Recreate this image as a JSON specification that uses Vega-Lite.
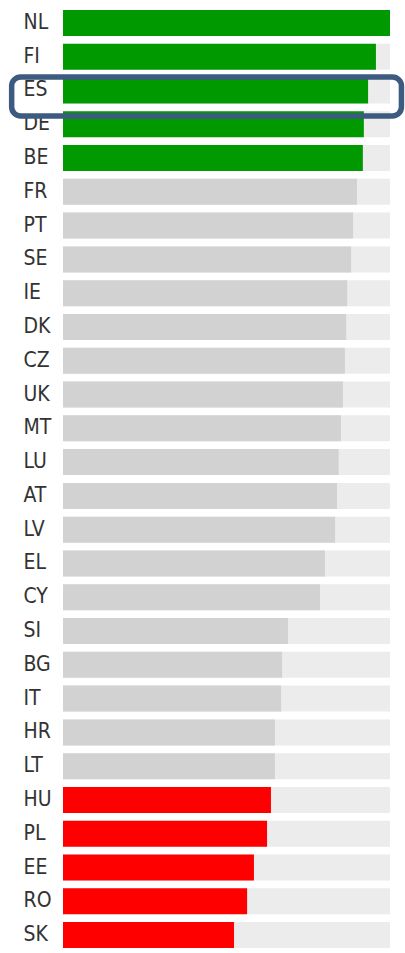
{
  "$schema": "https://vega.github.io/schema/vega-lite/v6.json",
  "autosize": {"type": "none"},
  "width": 327,
  "height": 946,
  "padding": {"left": 63, "top": 6, "right": 15, "bottom": 1},
  "background": "white",
  "config": {"view": {"stroke": null}},
  "data": {
    "values": [
      {"country": "NL", "value": 100, "group": "top", "max": 100},
      {"country": "FI", "value": 95.7, "group": "top", "max": 100},
      {"country": "ES", "value": 93.3, "group": "top", "max": 100},
      {"country": "DE", "value": 92.0, "group": "top", "max": 100},
      {"country": "BE", "value": 91.7, "group": "top", "max": 100},
      {"country": "FR", "value": 89.9, "group": "middle", "max": 100},
      {"country": "PT", "value": 88.7, "group": "middle", "max": 100},
      {"country": "SE", "value": 88.1, "group": "middle", "max": 100},
      {"country": "IE", "value": 86.9, "group": "middle", "max": 100},
      {"country": "DK", "value": 86.6, "group": "middle", "max": 100},
      {"country": "CZ", "value": 86.2, "group": "middle", "max": 100},
      {"country": "UK", "value": 85.6, "group": "middle", "max": 100},
      {"country": "MT", "value": 85.0, "group": "middle", "max": 100},
      {"country": "LU", "value": 84.3, "group": "middle", "max": 100},
      {"country": "AT", "value": 83.8, "group": "middle", "max": 100},
      {"country": "LV", "value": 83.2, "group": "middle", "max": 100},
      {"country": "EL", "value": 80.1, "group": "middle", "max": 100},
      {"country": "CY", "value": 78.6, "group": "middle", "max": 100},
      {"country": "SI", "value": 68.8, "group": "middle", "max": 100},
      {"country": "BG", "value": 67.0, "group": "middle", "max": 100},
      {"country": "IT", "value": 66.7, "group": "middle", "max": 100},
      {"country": "HR", "value": 64.8, "group": "middle", "max": 100},
      {"country": "LT", "value": 64.8, "group": "middle", "max": 100},
      {"country": "HU", "value": 63.6, "group": "bottom", "max": 100},
      {"country": "PL", "value": 62.4, "group": "bottom", "max": 100},
      {"country": "EE", "value": 58.4, "group": "bottom", "max": 100},
      {"country": "RO", "value": 56.3, "group": "bottom", "max": 100},
      {"country": "SK", "value": 52.3, "group": "bottom", "max": 100}
    ]
  },
  "encoding": {
    "y": {
      "field": "country",
      "type": "nominal",
      "sort": null,
      "scale": {"paddingInner": 0.23, "paddingOuter": 0.115},
      "axis": {
        "title": null,
        "ticks": false,
        "tickSize": 0,
        "domain": false,
        "labelAlign": "left",
        "labelPadding": 40,
        "labelFont": "DejaVu Sans Condensed, Liberation Sans Narrow, sans-serif",
        "labelFontSize": 21,
        "labelColor": "#333333",
        "labelBaseline": "middle"
      }
    }
  },
  "layer": [
    {
      "mark": {"type": "bar", "color": "#ececec"},
      "encoding": {
        "x": {"field": "max", "type": "quantitative", "scale": {"domain": [0, 100], "nice": false, "zero": true}, "axis": null}
      }
    },
    {
      "mark": {"type": "bar"},
      "encoding": {
        "x": {"field": "value", "type": "quantitative"},
        "color": {
          "field": "group",
          "type": "nominal",
          "scale": {"domain": ["top", "middle", "bottom"], "range": ["#009a00", "#d2d2d2", "#ff0000"]},
          "legend": null
        }
      }
    },
    {
      "data": {"values": [{"country": "ES", "start": -15.7, "end": 103.5}]},
      "mark": {"type": "bar", "filled": false, "stroke": "#3d5a80", "strokeWidth": 5.5, "cornerRadius": 9, "height": {"band": 1.5}, "yOffset": 6, "clip": false},
      "encoding": {
        "x": {"field": "start", "type": "quantitative"},
        "x2": {"field": "end"}
      }
    }
  ]
}
